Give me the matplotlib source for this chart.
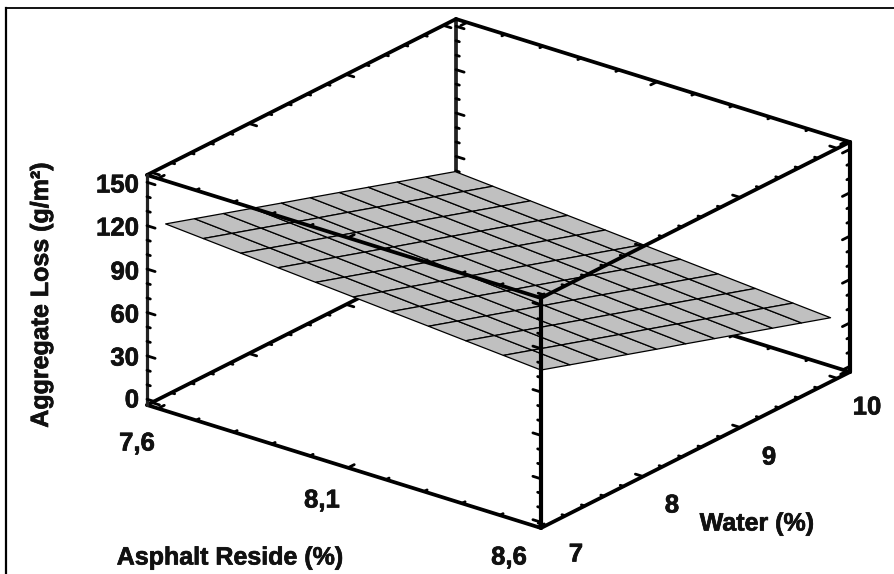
import numpy as np
import matplotlib
matplotlib.use("Agg")
import matplotlib.pyplot as plt
import matplotlib.patheffects as pe
from matplotlib.collections import PolyCollection

plt.rcParams['font.family'] = ['Liberation Sans', 'DejaVu Sans']

# ---------- data ----------
asphalt_ticks = [7.6, 8.1, 8.6]
asphalt_labels = ['7,6', '8,1', '8,6']
water_ticks = [7, 8, 9, 10]
water_labels = ['7', '8', '9', '10']
loss_ticks = [0, 30, 60, 90, 120, 150]
loss_labels = ['0', '30', '60', '90', '120', '150']

asphalt_grid = [7.620, 7.719, 7.818, 7.916, 8.015, 8.114, 8.213, 8.312, 8.410, 8.509, 8.608]
water_grid = [6.950, 7.248, 7.546, 7.844, 8.142, 8.440, 8.738, 9.036, 9.334, 9.632, 9.930]
# rows: water_grid, columns: asphalt_grid
loss_grid = [
    [125.2, 123.2, 121.2, 119.2, 117.2, 115.2, 113.2, 111.2, 109.2, 107.2, 105.2],
    [118.7, 116.7, 114.7, 112.7, 110.7, 108.7, 106.7, 104.7, 102.7, 100.7, 98.7],
    [112.2, 110.2, 108.2, 106.2, 104.2, 102.2, 100.2, 98.2, 96.2, 94.2, 92.2],
    [105.7, 103.7, 101.7, 99.7, 97.7, 95.7, 93.7, 91.7, 89.7, 87.7, 85.7],
    [99.2, 97.2, 95.2, 93.2, 91.2, 89.2, 87.2, 85.2, 83.2, 81.2, 79.2],
    [92.8, 90.8, 88.8, 86.8, 84.8, 82.8, 80.8, 78.8, 76.8, 74.8, 72.8],
    [86.3, 84.3, 82.3, 80.3, 78.3, 76.3, 74.3, 72.3, 70.3, 68.3, 66.3],
    [79.8, 77.8, 75.8, 73.8, 71.8, 69.8, 67.8, 65.8, 63.8, 61.8, 59.8],
    [73.3, 71.3, 69.3, 67.3, 65.3, 63.3, 61.3, 59.3, 57.3, 55.3, 53.3],
    [66.8, 64.8, 62.8, 60.8, 58.8, 56.8, 54.8, 52.8, 50.8, 48.8, 46.8],
    [60.3, 58.3, 56.3, 54.3, 52.3, 50.3, 48.3, 46.3, 44.3, 42.3, 40.3],
]

# axis limits of the box
A0, A1 = 7.571, 8.608
W0, W1 = 6.950, 10.13
Z0, Z1 = -4.0, 155.0

# ---------- figure ----------
fig = plt.figure(figsize=(8.95, 5.74), dpi=100)
ax = fig.add_axes([0, 0, 1, 1])
ax.set_xlim(0, 895)
ax.set_ylim(574, 0)
ax.axis('off')


def proj(a, w, z):
    """Oblique box projection, returned in pixel coordinates."""
    u = (np.asarray(a, float) - A0) / (A1 - A0)
    v = (np.asarray(w, float) - W0) / (W1 - W0)
    t = (np.asarray(z, float) - Z0) / (Z1 - Z0)
    return 147 + 394 * u + 309 * v, 405 + 123 * u - 156 * v - 230 * t


def edge(p, q, zo, lw=2.7, color='black'):
    x, y = proj(*zip(p, q))
    ax.plot(x, y, color=color, lw=lw, solid_capstyle='round', zorder=zo)


UA = np.array([8.0, 2.5])      # pixel directions of tick marks
UW = np.array([7.0, -3.5])
MAJOR, MINOR = 8.5, 3.5


def ticks(a, w, z, direction, length, zo):
    x, y = proj(a, w, z)
    d = direction / np.hypot(*direction) * length
    ax.plot([x, x + d[0]], [y, y + d[1]], color='black', lw=2.0, zorder=zo,
            solid_capstyle='round')


def vertical_ticks(a, w, direction, zo):
    for z in np.arange(0, 151, 10):
        ticks(a, w, z, direction, MAJOR if z % 30 == 0 else MINOR, zo)


def asphalt_edge_ticks(w, z, direction, zo):
    for i in range(0, 11):
        a = 7.6 + i * 0.1
        ticks(a, w, z, direction, 7 if i % 5 == 0 else MINOR, zo)


def water_edge_ticks(a, z, direction, zo):
    for i in range(0, 16):
        w = 7 + i * 0.2
        ticks(a, w, z, direction, 8 if i % 5 == 0 else MINOR, zo)


# outer frame of the picture (left and top only)
ax.plot([6, 6], [574, 8], color='black', lw=1.6, zorder=1)
ax.plot([6, 895], [8, 8], color='black', lw=1.3, zorder=1)

# back of the box, hidden by the surface
edge((A0, W0, Z0), (A0, W1, Z0), 2)
edge((A1, W1, Z0), (A0, W1, Z0), 2)
edge((A0, W1, Z0), (A0, W1, Z1), 2, color='#222222')
edge((A0, W0, Z1), (A0, W1, Z1), 2)
edge((A0, W1, Z1), (A1, W1, Z1), 2)
vertical_ticks(A0, W1, UA, 2)
asphalt_edge_ticks(W1, Z1, -UW, 2)
asphalt_edge_ticks(W1, Z0, -UW, 2)
water_edge_ticks(A0, Z1, UA, 2)
water_edge_ticks(A0, Z0, UA, 2)

# response surface
ag, wg = np.meshgrid(asphalt_grid, water_grid)
sx, sy = proj(ag, wg, np.array(loss_grid))
polys = []
for j in range(len(water_grid) - 1):
    for i in range(len(asphalt_grid) - 1):
        polys.append([(sx[j, i], sy[j, i]), (sx[j, i + 1], sy[j, i + 1]),
                      (sx[j + 1, i + 1], sy[j + 1, i + 1]), (sx[j + 1, i], sy[j + 1, i])])
ax.add_collection(PolyCollection(polys, facecolor='#c0c0c0', edgecolor='black',
                                 linewidth=0.9, zorder=3))

# front of the box, over the surface
edge((A0, W0, Z0), (A1, W0, Z0), 4)
edge((A1, W0, Z0), (A1, W1, Z0), 4)
edge((A1, W0, Z0), (A1, W0, Z1), 4, lw=3.0)
edge((A0, W0, Z1), (A1, W0, Z1), 4)
edge((A1, W0, Z1), (A1, W1, Z1), 4)
edge((A1, W1, Z0), (A1, W1, Z1), 4, lw=3.0)
edge((A0, W0, Z0), (A0, W0, Z1), 4, lw=2.3, color='#222222')

vertical_ticks(A0, W0, UA, 4)
vertical_ticks(A1, W0, -UA, 4)
vertical_ticks(A1, W1, -UW, 4)
asphalt_edge_ticks(W0, Z0, UW, 4)
asphalt_edge_ticks(W0, Z1, UW, 4)
water_edge_ticks(A1, Z0, -UA, 4)
water_edge_ticks(A1, Z1, -UA, 4)

# ---------- text ----------
heavy = [pe.withStroke(linewidth=0.5, foreground='#111111')]
tk = dict(fontsize=18.5, fontweight='bold', color='#111111', zorder=6, path_effects=heavy)
lb = dict(fontsize=18.0, fontweight='bold', color='#111111', zorder=6, path_effects=heavy)
loss_label_y = [398, 356, 313, 270, 226, 183]
for lab, yy in zip(loss_labels, loss_label_y):
    ax.text(139, yy, lab, ha='right', va='center_baseline', **tk)
asphalt_label_xy = [(137, 441), (322, 498), (509, 555)]
for lab, (xx, yy) in zip(asphalt_labels, asphalt_label_xy):
    ax.text(xx, yy, lab, ha='center', va='center_baseline', **tk)
water_label_xy = [(576, 552), (672, 503), (769, 455), (867, 405)]
for lab, (xx, yy) in zip(water_labels, water_label_xy):
    ax.text(xx, yy, lab, ha='center', va='center_baseline', **tk)

ax.text(230, 555, 'Asphalt Reside (%)', ha='center', va='center_baseline', **lb)
ax.text(757, 521, 'Water (%)', ha='center', va='center_baseline', **lb)
ax.text(41, 295, 'Aggregate Loss (g/m²)', rotation=90, ha='center', va='center', **lb)

fig.savefig('out.png', dpi=100)
